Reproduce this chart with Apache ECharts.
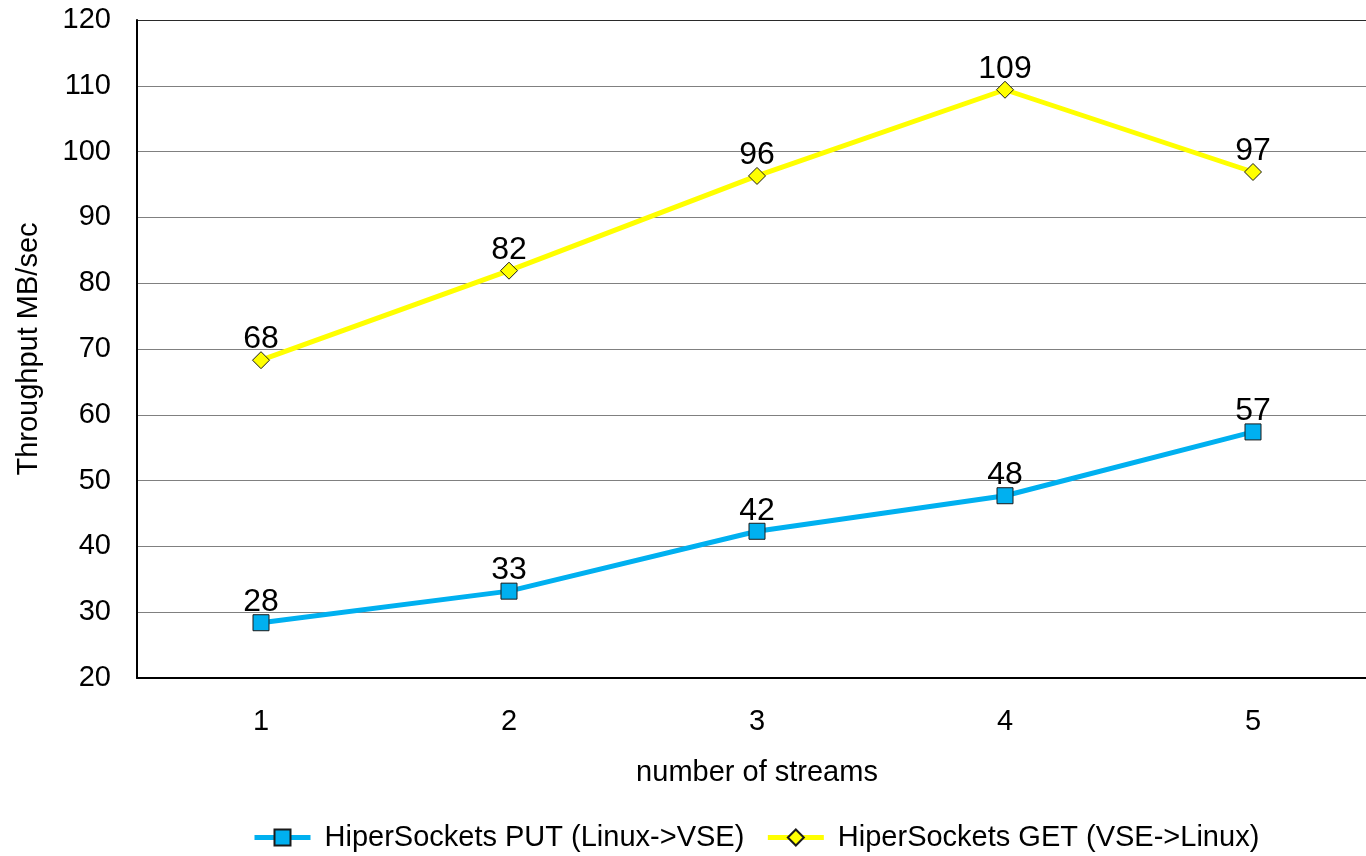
<!DOCTYPE html>
<html>
<head>
<meta charset="utf-8">
<script src="https://cdn.jsdelivr.net/npm/echarts@6/dist/echarts.min.js"></script>
<style>
  html, body { margin: 0; padding: 0; background: #fff; overflow: hidden; }
  /* canvas is a little wider than the window so the plot area runs off the right edge */
  #chart { width: 1377px; height: 856px; }
</style>
</head>
<body>
<div id="chart"></div>
<script>
// Throughput of HiperSockets transfers by number of parallel streams
const streams = ['1', '2', '3', '4', '5'];
const putValues = [28.4, 33.2, 42.3, 47.7, 57.4];
const getValues = [68.3, 81.9, 96.3, 109.4, 96.9];
const putName = 'HiperSockets PUT (Linux->VSE)';
const getName = 'HiperSockets GET (VSE->Linux)';

const FONT = '"Liberation Sans", Arial, sans-serif';

const chart = echarts.init(document.getElementById('chart'));

const valueLabel = {
  show: true,
  position: 'top',
  distance: 0,
  offset: [0, 4],
  fontFamily: FONT,
  fontSize: 32,
  color: '#000',
  formatter: p => Math.round(p.value)
};

// grid lines are grey; the top one doubles as the plot border and is darker
const gridColors = ['#808080', '#808080', '#808080', '#808080', '#808080', '#808080',
                    '#808080', '#808080', '#808080', '#808080', '#2a2a2a'];

chart.setOption({
  animation: false,
  textStyle: { fontFamily: FONT },
  grid: { left: 137, top: 20, right: 0, bottom: 178, containLabel: false },
  legend: {
    left: 252,
    top: 823,
    padding: 0,
    itemWidth: 56,
    itemHeight: 20,
    itemGap: 21,
    textStyle: { fontFamily: FONT, fontSize: 29, color: '#000', padding: [0, 0, 0, 9] },
    data: [
      { name: putName, lineStyle: { width: 5 } },
      { name: getName, lineStyle: { width: 5 } }
    ]
  },
  xAxis: {
    type: 'category',
    data: streams,
    boundaryGap: true,
    name: 'number of streams',
    nameLocation: 'middle',
    nameGap: 80,
    nameTextStyle: { fontFamily: FONT, fontSize: 29, color: '#000' },
    axisLine: { lineStyle: { color: '#000', width: 2 } },
    axisTick: { show: false },
    axisLabel: { fontFamily: FONT, fontSize: 29, color: '#000', margin: 29 }
  },
  yAxis: {
    type: 'value',
    min: 20,
    max: 120,
    interval: 10,
    name: 'Throughput MB/sec',
    nameLocation: 'middle',
    nameGap: 94,
    nameTextStyle: { fontFamily: FONT, fontSize: 29, color: '#000' },
    axisLine: { show: true, lineStyle: { color: '#000', width: 2 } },
    axisTick: { show: false },
    axisLabel: { fontFamily: FONT, fontSize: 29, color: '#000', margin: 26 },
    splitLine: { lineStyle: { color: gridColors, width: 1 } }
  },
  series: [
    {
      name: putName,
      type: 'line',
      data: putValues,
      symbol: 'rect',
      symbolSize: 16,
      lineStyle: { color: '#00B0F0', width: 5 },
      itemStyle: { color: '#00B0F0', borderColor: '#1a1a1a', borderWidth: 1 },
      label: valueLabel
    },
    {
      name: getName,
      type: 'line',
      data: getValues,
      symbol: 'diamond',
      symbolSize: 17,
      lineStyle: { color: '#FFFF00', width: 5 },
      itemStyle: { color: '#FFFF00', borderColor: '#1a1a1a', borderWidth: 1 },
      label: valueLabel
    }
  ]
});
</script>
</body>
</html>
